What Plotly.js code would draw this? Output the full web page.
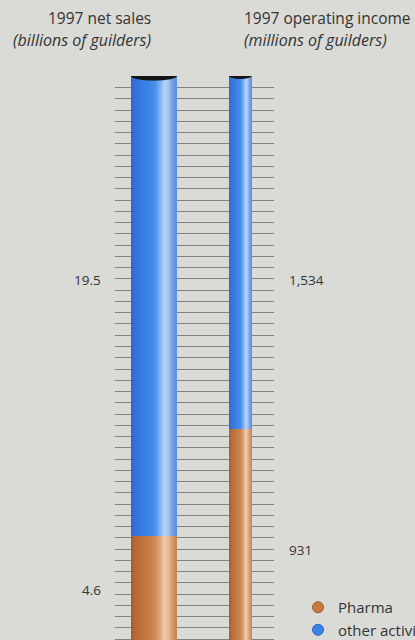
<!DOCTYPE html>
<html>
<head>
<meta charset="utf-8">
<script src="https://cdn.plot.ly/plotly-3.0.1.min.js"></script>
<style>
  html, body { margin: 0; padding: 0; background: #dadad7; overflow: hidden; }
  #chart { width: 415px; height: 644px; }
</style>
</head>
<body>
<div id="chart"></div>
<script>
// 1997 segment cylinders: Pharma vs. other activities
const categories = ['1997 net sales', '1997 operating income'];
const unitLabels = ['(billions of guilders)', '(millions of guilders)'];
const seriesNames = ['Pharma', 'other activities'];
const netSales = [4.6, 19.5];          // billions of guilders: Pharma, other
const operatingIncome = [931, 1534];   // millions of guilders: Pharma, other

// styling
const BG = '#dadad7';
const TEXT = '#333333';
const FONT = 'Open Sans, Noto Sans, sans-serif';
const legendColors = ['#c67a42', '#3a82e6'];
const barWidths = [0.533, 0.263];
const capHeights = [9, 6];
const STRIPS = 23;

// left-to-right shading across a cylinder face
const shading = [
  [ [0, '#2d69cf'], [0.12, '#3476dc'], [0.35, '#3b82e6'], [0.52, '#4a8eea'],
    [0.63, '#7cb0f1'], [0.73, '#b6d4f8'], [0.81, '#a4c5f2'], [0.91, '#6d9fe6'], [1, '#5a8edc'] ],
  [ [0, '#a95d2d'], [0.12, '#b86c38'], [0.35, '#c47a45'], [0.52, '#cc8955'],
    [0.63, '#dea57c'], [0.73, '#f1cdb0'], [0.81, '#e7b995'], [0.91, '#d39464'], [1, '#c5845a'] ]
];

function hexToRgb(h) {
  return [1, 3, 5].map(i => parseInt(h.slice(i, i + 2), 16));
}
function shadeAt(stops, t) {
  for (let k = 1; k < stops.length; k++) {
    if (t <= stops[k][0]) {
      const [t0, c0] = stops[k - 1], [t1, c1] = stops[k];
      const f = (t - t0) / (t1 - t0);
      const a = hexToRgb(c0), b = hexToRgb(c1);
      const m = a.map((v, i) => Math.round(v + (b[i] - v) * f));
      return 'rgb(' + m.join(',') + ')';
    }
  }
  return stops[stops.length - 1][1];
}

const metrics = [
  { values: netSales, yaxis: 'y', fmt: v => v.toFixed(1) },
  { values: operatingIncome, yaxis: 'y2', fmt: v => v.toLocaleString('en-US') }
];

const traces = [];
metrics.forEach((m, mi) => {
  const w = barWidths[mi];
  const stripW = w / STRIPS;
  // segment 0 = Pharma (bottom, orange), segment 1 = other activities (top, blue)
  m.values.forEach((val, si) => {
    const base = si === 0 ? 0 : m.values[0];
    const stops = si === 0 ? shading[1] : shading[0];
    for (let i = 0; i < STRIPS; i++) {
      const t = (i + 0.5) / STRIPS;
      traces.push({
        type: 'bar',
        x: [mi],
        y: [val],
        base: [base],
        yaxis: m.yaxis,
        width: [stripW * (i === STRIPS - 1 ? 1 : 1.15)],
        offset: [-w / 2 + i * stripW],
        marker: { color: shadeAt(stops, t), line: { width: 0 } },
        name: seriesNames[si],
        showlegend: false,
        hoverinfo: 'skip'
      });
    }
  });
});

// legend entries (round markers)
seriesNames.forEach((name, si) => {
  traces.push({
    type: 'scatter', mode: 'markers',
    x: [null], y: [null], yaxis: 'y3',
    name: name,
    marker: { symbol: 'circle', size: 11, color: legendColors[si],
              line: { color: si === 0 ? '#9c5a2c' : '#2a66c4', width: 1 } },
    hoverinfo: 'skip'
  });
});

const totals = metrics.map(m => m.values[0] + m.values[1]);

// dark elliptical caps on top of each cylinder
const shapes = metrics.map((m, mi) => ({
  type: 'circle', layer: 'above',
  xref: 'x', yref: m.yaxis,
  ysizemode: 'pixel', yanchor: totals[mi],
  x0: mi - barWidths[mi] / 2, x1: mi + barWidths[mi] / 2,
  y0: -capHeights[mi] / 2, y1: capHeights[mi] / 2,
  fillcolor: '#141414', line: { width: 0 }
}));

// plot area spans x 115..274 px and y 76..644 px
const PLOT_L = 115, PLOT_W = 159, PLOT_T = 76, PLOT_H = 568;
const px = x => (x - PLOT_L) / PLOT_W;
const py = y => (PLOT_T + PLOT_H - y) / PLOT_H;

const annotations = [];
const headFont = { family: FONT, size: 15.5, color: TEXT };
const unitFont = { family: FONT, size: 16, color: TEXT };
// headings
annotations.push(
  { text: categories[0], x: px(153), y: py(18), xanchor: 'right' },
  { text: '<i>' + unitLabels[0] + '</i>', x: px(153), y: py(40), xanchor: 'right', unit: true },
  { text: categories[1], x: px(242), y: py(18), xanchor: 'left' },
  { text: '<i>' + unitLabels[1] + '</i>', x: px(242), y: py(40), xanchor: 'left', unit: true }
);
annotations.forEach(a => { a.font = a.unit ? unitFont : headFont; delete a.unit; });

// value labels beside each segment
const valFont = { family: FONT, size: 13.5, color: TEXT };
const labelSpots = [
  [ { x: px(103), y: py(590), xanchor: 'right' }, { x: px(103), y: py(280), xanchor: 'right' } ],
  [ { x: px(287), y: py(550), xanchor: 'left' }, { x: px(287), y: py(280), xanchor: 'left' } ]
];
metrics.forEach((m, mi) => {
  m.values.forEach((v, si) => {
    annotations.push(Object.assign({ text: m.fmt(v), font: valFont }, labelSpots[mi][si]));
  });
});
annotations.forEach(a => {
  Object.assign(a, { xref: 'paper', yref: 'paper', yanchor: 'middle', showarrow: false });
});

const layout = {
  width: 415, height: 644,
  margin: { l: PLOT_L, r: 415 - PLOT_L - PLOT_W, t: PLOT_T, b: 0, pad: 0, autoexpand: false },
  paper_bgcolor: BG, plot_bgcolor: BG,
  barmode: 'overlay',
  bargap: 0,
  font: { family: FONT, color: TEXT },
  xaxis: { range: [-0.452, 1.39], visible: false, fixedrange: true },
  yaxis: { range: [0, totals[0]], visible: false, fixedrange: true },
  yaxis2: { range: [0, totals[1]], overlaying: 'y', anchor: 'x', visible: false, fixedrange: true },
  yaxis3: {
    range: [-50.44, 0.04], overlaying: 'y', anchor: 'x',
    tick0: 0, dtick: 1, showgrid: true, gridcolor: '#828282', gridwidth: 1,
    showticklabels: false, ticks: '', zeroline: false, showline: false, fixedrange: true
  },
  showlegend: true,
  legend: {
    x: px(298), y: py(591), xanchor: 'left', yanchor: 'top',
    bgcolor: 'rgba(0,0,0,0)', borderwidth: 0,
    font: { family: FONT, size: 15, color: TEXT },
    itemwidth: 30, tracegroupgap: 0
  },
  shapes: shapes,
  annotations: annotations
};

Plotly.newPlot('chart', traces, layout, { displayModeBar: false, staticPlot: true });
</script>
</body>
</html>
